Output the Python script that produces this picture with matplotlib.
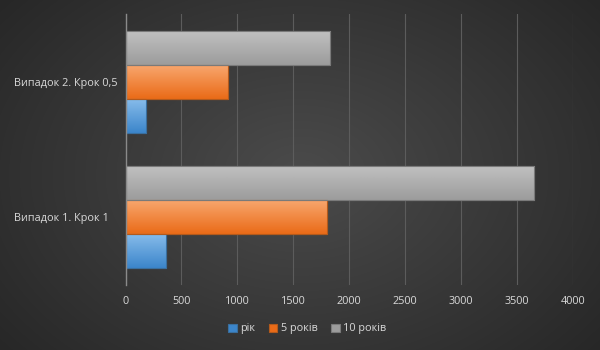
import numpy as np
import matplotlib
matplotlib.use("Agg")
import matplotlib.pyplot as plt
from matplotlib.colors import LinearSegmentedColormap

categories = ["Випадок 1. Крок 1", "Випадок 2. Крок 0,5"]
series_names = ["рік", "5 років", "10 років"]
v_year = [362, 183]
v_5 = [1799, 915]
v_10 = [3647, 1826]
xticks = [0, 500, 1000, 1500, 2000, 2500, 3000, 3500, 4000]

tops = ["#86bbea", "#f8a66d", "#c0c0c0"]
bots = ["#3c86cb", "#ea6b18", "#9c9c9c"]
edges = ["#3a6f9e", "#b35a1c", "#7a7a7a"]

plt.rcParams['font.family'] = ['Open Sans', 'DejaVu Sans']
fig = plt.figure(figsize=(6, 3.5), dpi=100)

# background radial gradient
bg = fig.add_axes([0, 0, 1, 1], zorder=-10)
yy, xx = np.mgrid[0:350, 0:600]
r = np.sqrt(((xx - 300) / 420.0) ** 2 + ((yy - 175) / 300.0) ** 2)
bg.imshow(r, cmap=LinearSegmentedColormap.from_list("bg", ["#4b4b4b", "#262626"]),
          vmin=0, vmax=0.95, aspect='auto', interpolation='bilinear')
bg.axis('off')

ax = fig.add_axes([125.5 / 600, 1 - 285 / 350, (573 - 125.5) / 600, 271 / 350])
ax.patch.set_alpha(0)
y = np.arange(len(categories))
h = 0.25
offsets = [-h, 0, h]
for i, vals in enumerate([v_year, v_5, v_10]):
    bars = ax.barh(y + offsets[i], vals, height=h, color=bots[i], edgecolor=edges[i],
                   linewidth=0.8, zorder=3, label=series_names[i])
    cmap = LinearSegmentedColormap.from_list("g%d" % i, [bots[i], tops[i]])
    for b in bars:
        x0, y0 = b.get_x(), b.get_y()
        w, hh = b.get_width(), b.get_height()
        im = ax.imshow(np.linspace(0, 1, 50).reshape(-1, 1), cmap=cmap, aspect='auto',
                       extent=[x0, x0 + w, y0, y0 + hh], origin='lower', zorder=3.5,
                       interpolation='bilinear')
        im.set_clip_path(b)
        ax.add_patch(plt.Rectangle((x0, y0), w, hh, fill=False, edgecolor=edges[i],
                                   linewidth=0.8, zorder=4))

ax.set_xlim(0, 4000)
ax.set_ylim(-0.5, 1.5)
ax.set_xticks(xticks)
ax.set_xticklabels([str(t) for t in xticks])
ax.set_yticks(y)
ax.set_yticklabels(categories, ha='left')
ax.tick_params(axis='both', length=0, colors='#d9d9d9', labelsize=7.8)
ax.tick_params(axis='x', pad=8)
ax.tick_params(axis='y', pad=(125.5 - 14) * 72 / 100)
ax.grid(axis='x', color='#5c5c5c', linewidth=0.8, zorder=0)
for s in ['top', 'right', 'bottom']:
    ax.spines[s].set_visible(False)
ax.spines['left'].set_color('#8a8a8a')
ax.spines['left'].set_linewidth(1)
ax.spines['left'].set_zorder(5)

handles, labels = ax.get_legend_handles_labels()
leg = fig.legend(handles, labels, loc='center', bbox_to_anchor=(0.512, 1 - 329 / 350), ncol=3,
                 frameon=False, fontsize=7.8, labelcolor='#d9d9d9', handlelength=0.8,
                 handleheight=0.8, handletextpad=0.3, columnspacing=1.25)
for hd, c, e in zip(leg.legend_handles, bots, edges):
    hd.set_facecolor(c)
    hd.set_edgecolor(e)

fig.savefig("out.png", dpi=100)
